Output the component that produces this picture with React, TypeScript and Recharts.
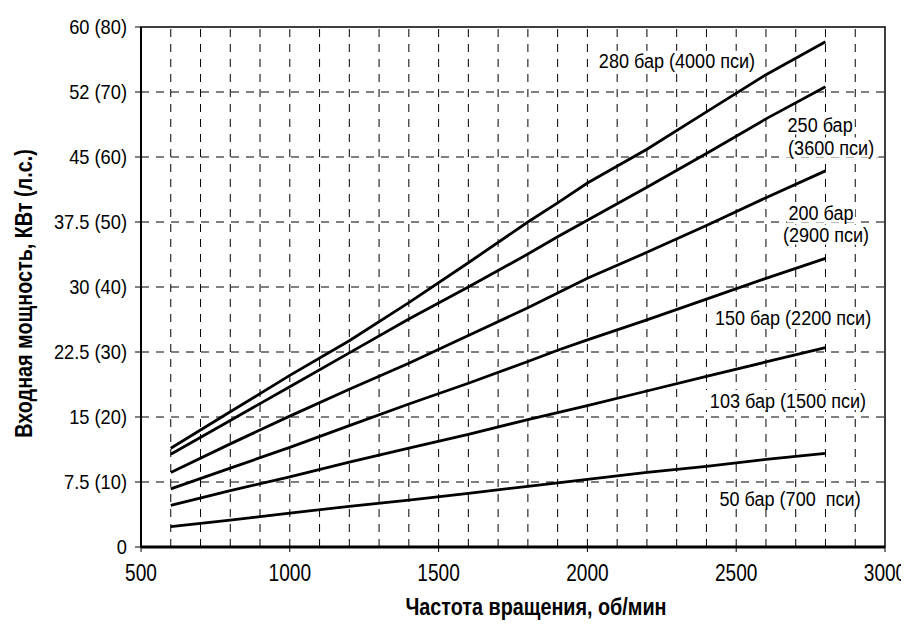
import React from "react";
import {
  LineChart,
  Line,
  XAxis,
  YAxis,
  ReferenceLine,
  ReferenceArea,
  ReferenceDot,
} from "recharts";

// Pump speed, rpm
const rpm = [600, 800, 1000, 1200, 1400, 1600, 1800, 1900, 2000, 2200, 2400, 2600, 2800];

// Input power, kW, for each working pressure
const p50 = [2.35, 3.1, 3.9, 4.7, 5.4, 6.2, 7.0, 7.4, 7.8, 8.6, 9.3, 10.1, 10.8];
const p103 = [4.8, 6.5, 8.1, 9.8, 11.4, 13.0, 14.7, 15.5, 16.3, 18.0, 19.7, 21.35, 23.0];
const p150 = [6.7, 9.1, 11.5, 14.0, 16.5, 18.9, 21.4, 22.7, 23.9, 26.2, 28.6, 31.0, 33.3];
const p200 = [8.6, 11.9, 15.1, 18.2, 21.2, 24.4, 27.6, 29.3, 31.0, 34.0, 37.1, 40.3, 43.4];
const p250 = [10.7, 14.6, 18.5, 22.4, 26.3, 30.0, 33.8, 35.8, 37.7, 41.5, 45.4, 49.4, 53.1];
const p280 = [11.4, 15.6, 19.8, 23.8, 28.2, 32.8, 37.5, 39.7, 42.0, 45.9, 50.2, 54.5, 58.3];

const seriesKeys = ["p50", "p103", "p150", "p200", "p250", "p280"];
const seriesValues = [p50, p103, p150, p200, p250, p280];

// Axis ticks
const xTicks = [500, 1000, 1500, 2000, 2500, 3000];
const yTicks = [0, 7.5, 15, 22.5, 30, 37.5, 45, 52.5, 60];
const yTickLabels = ["0", "7.5 (10)", "15 (20)", "22.5 (30)", "30 (40)", "37.5 (50)", "45 (60)", "52 (70)", "60 (80)"];

// Dashed grid every 100 rpm
const gridRpm = [600, 700, 800, 900, 1000, 1100, 1200, 1300, 1400, 1500, 1600, 1700, 1800, 1900, 2000, 2100, 2200, 2300, 2400, 2500, 2600, 2700, 2800, 2900];
const gridKw = [7.5, 15, 22.5, 30, 37.5, 45, 52.5];

// Curve captions, anchored in chart units (rpm, kW)
const captionText = [
  "280 бар (4000 пси)",
  "250 бар",
  "(3600 пси)",
  "200 бар",
  "(2900 пси)",
  "150 бар (2200 пси)",
  "103 бар (1500 пси)",
  "50 бар (700  пси)",
];
const captionRpm = [2301, 2782, 2819, 2785, 2802, 2691, 2674, 2681];
const captionKw = [56.1, 48.75, 46.1, 38.6, 36.05, 26.5, 16.96, 5.6];

const data = rpm.map((r, i) => {
  const row: Record<string, number> = { rpm: r };
  seriesKeys.forEach((k, j) => {
    row[k] = seriesValues[j][i];
  });
  return row;
});

const FONT = "'Liberation Sans', Arial, sans-serif";

// Horizontally squeezed text, giving a condensed face
const Narrow = ({ x, y, k, size, bold, anchor, baseline, dy, rotate, children }: any) => (
  <text
    transform={`translate(${x},${y})${rotate ? ` rotate(${rotate})` : ""} scale(${k},1)`}
    x={0}
    y={0}
    dy={dy}
    textAnchor={anchor || "middle"}
    dominantBaseline={baseline}
    fontFamily={FONT}
    fontSize={size}
    fontWeight={bold ? "bold" : "normal"}
    fill="#000"
    style={{ whiteSpace: "pre" }}
  >
    {children}
  </text>
);

const Caption = (props: any) => {
  const { cx, cy, text } = props;
  const w = text.length * 8.9 + 6;
  const h = 20;
  return (
    <g>
      <rect x={cx - w / 2} y={cy - h / 2} width={w} height={h} fill="#fff" />
      <Narrow x={cx} y={cy} k={0.86} size={21} baseline="central">
        {text}
      </Narrow>
    </g>
  );
};

const XTick = (props: any) => {
  const { x, y, payload } = props;
  return (
    <Narrow x={x} y={y} k={0.83} size={23} dy="0.71em">
      {String(payload.value)}
    </Narrow>
  );
};

const YTick = (props: any) => {
  const { x, y, payload } = props;
  return (
    <Narrow x={x} y={y} k={0.87} size={21} anchor="end" baseline="central">
      {yTickLabels[yTicks.indexOf(payload.value)]}
    </Narrow>
  );
};

const YTitle = () => (
  <Narrow x={16} y={285.5} k={0.86} size={23} bold rotate={-90} baseline="central">
    Входная мощность, КВт (л.с.)
  </Narrow>
);

const XTitle = () => (
  <Narrow x={528} y={607} k={0.86} size={23} bold>
    Частота вращения, об/мин
  </Narrow>
);

export default function App() {
  return (
    <LineChart
      width={901}
      height={617}
      data={data}
      margin={{ top: 19, right: 24, bottom: 0, left: 0 }}
    >
      {gridRpm.map((v) => (
        <ReferenceLine
          key={"gx" + v}
          x={v}
          stroke="#000"
          strokeWidth={1}
          strokeDasharray="8 7"
        />
      ))}
      {gridKw.map((v) => (
        <ReferenceLine
          key={"gy" + v}
          y={v}
          stroke="#000"
          strokeWidth={1}
          strokeDasharray="8 7"
        />
      ))}
      <ReferenceArea
        x1={500}
        x2={3000}
        y1={0}
        y2={60}
        fill="none"
        stroke="#000"
        strokeWidth={1.5}
      />
      <XAxis
        dataKey="rpm"
        type="number"
        domain={[500, 3000]}
        ticks={xTicks}
        interval={0}
        height={78}
        tickSize={5}
        tickMargin={13}
        axisLine={{ stroke: "#000", strokeWidth: 3 }}
        tickLine={{ stroke: "#000", strokeWidth: 1 }}
        tick={<XTick />}
        label={<XTitle />}
      />
      <YAxis
        type="number"
        domain={[0, 60]}
        ticks={yTicks}
        interval={0}
        width={133}
        tickSize={6}
        tickMargin={8}
        axisLine={{ stroke: "#000", strokeWidth: 2 }}
        tickLine={{ stroke: "#000", strokeWidth: 1 }}
        tick={<YTick />}
        label={<YTitle />}
      />
      {seriesKeys.map((k) => (
        <Line
          key={k}
          dataKey={k}
          type="linear"
          stroke="#000"
          strokeWidth={2.8}
          dot={false}
          activeDot={false}
          isAnimationActive={false}
        />
      ))}
      {captionText.map((t, i) => (
        <ReferenceDot
          key={"c" + i}
          x={captionRpm[i]}
          y={captionKw[i]}
          r={0}
          shape={(p: any) => <Caption {...p} text={t} />}
        />
      ))}
    </LineChart>
  );
}
